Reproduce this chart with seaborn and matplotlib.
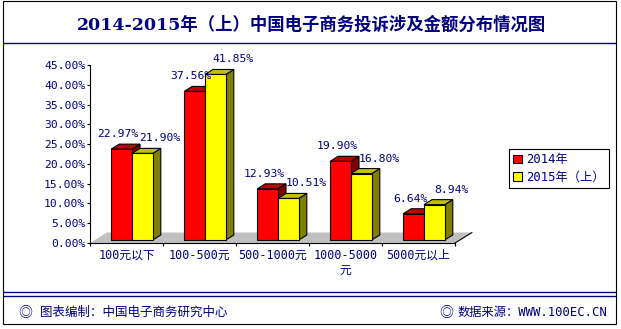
import matplotlib
matplotlib.use('Agg')
import matplotlib.pyplot as plt
import seaborn as sns
import pandas as pd
from matplotlib.patches import Polygon, Rectangle, Patch
from matplotlib.lines import Line2D
from matplotlib.transforms import ScaledTranslation

# ---------------- data ----------------
categories = ['100元以下', '100-500元', '500-1000元', '1000-5000\n元', '5000元以上']
series = ['2014年', '2015年（上）']
values_2014 = [22.97, 37.56, 12.93, 19.90, 6.64]
values_2015 = [21.90, 41.85, 10.51, 16.80, 8.94]
y_ticks = [0, 5, 10, 15, 20, 25, 30, 35, 40, 45]
title_text = '2014-2015年（上）中国电子商务投诉涉及金额分布情况图'
footer_left = '图表编制：中国电子商务研究中心'
footer_right = '数据来源：WWW.100EC.CN'

df = pd.DataFrame({
    'category': categories * 2,
    'series': [series[0]] * len(categories) + [series[1]] * len(categories),
    'value': values_2014 + values_2015,
})

# ---------------- style ----------------
sns.set_theme(style='white')
MONO = ['DejaVu Sans Mono', 'Noto Sans CJK SC']
plt.rcParams['font.family'] = MONO
NAVY = '#000080'
front_colors = ['#FF0000', '#FFFF00']
top_colors = ['#C00000', '#C0C000']
side_colors = ['#800000', '#808000']
floor_color = '#C0C0C0'

W, H = 621, 329
fig = plt.figure(figsize=(W / 100, H / 100), dpi=100)
fig.patch.set_facecolor('white')

ax_l, ax_r, ax_t, ax_b = 90, 455, 65, 243
ax = fig.add_axes([ax_l / W, 1 - ax_b / H, (ax_r - ax_l) / W, (ax_b - ax_t) / H])
ax.set_facecolor('none')

sns.barplot(data=df, x='category', y='value', hue='series', palette=front_colors,
            saturation=1, width=0.57, gap=0, edgecolor='black', linewidth=0.8,
            errorbar=None, legend=False, ax=ax)

ax.set_xlim(-0.5, len(categories) - 0.5)
ax.set_ylim(0, 45)

# pixel -> data conversion
px_x = (len(categories)) / (ax_r - ax_l)
px_y = 45 / (ax_b - ax_t)

# floor (grey parallelogram going back)
floor_dx, floor_dy = 17 * px_x, 10.5 * px_y
x0f, x1f = -0.5, len(categories) - 0.5
floor = Polygon([(x0f, 0), (x1f, 0), (x1f + floor_dx, floor_dy), (x0f + floor_dx, floor_dy)],
                closed=True, facecolor=floor_color, edgecolor='none', zorder=0.5,
                clip_on=False, transform=ax.transData)
ax.add_patch(floor)
ax.add_line(Line2D([x1f, x1f + floor_dx], [0, floor_dy], color='black', lw=0.8,
                   clip_on=False, zorder=0.6))

# 3D bars
front_trans = ax.transData + ScaledTranslation(5.5 / 100, 3 / 100, fig.dpi_scale_trans)
dep_x, dep_y = 8 * px_x, 5 * px_y
for si, cont in enumerate(ax.containers):
    z = 3 + si
    for p in cont.patches:
        x0, w, h = p.get_x(), p.get_width(), p.get_height()
        p.set_transform(front_trans)
        p.set_clip_on(False)
        p.set_zorder(z + 0.2)
        top = Polygon([(x0, h), (x0 + w, h), (x0 + w + dep_x, h + dep_y), (x0 + dep_x, h + dep_y)],
                      closed=True, facecolor=top_colors[si], edgecolor='black', lw=0.8,
                      transform=front_trans, clip_on=False, zorder=z + 0.1)
        side = Polygon([(x0 + w, 0), (x0 + w + dep_x, dep_y), (x0 + w + dep_x, h + dep_y), (x0 + w, h)],
                       closed=True, facecolor=side_colors[si], edgecolor='black', lw=0.8,
                       transform=front_trans, clip_on=False, zorder=z)
        ax.add_patch(top)
        ax.add_patch(side)

# value labels
label_dx_px = [2, 23]
for si, cont in enumerate(ax.containers):
    for p in cont.patches:
        xc = p.get_x() + p.get_width() / 2
        v = p.get_height()
        ax.annotate(f'{v:.2f}%', xy=(xc, v), xytext=(label_dx_px[si] * 0.72, 18 * 0.72),
                    textcoords='offset points', ha='center', va='center',
                    fontsize=8.2, color=NAVY, annotation_clip=False, zorder=10)

# axes styling
for s in ['top', 'right']:
    ax.spines[s].set_visible(False)
for s in ['left', 'bottom']:
    ax.spines[s].set_color('black')
    ax.spines[s].set_linewidth(0.8)
    ax.spines[s].set_zorder(1)

ax.set_yticks(y_ticks)
ax.set_yticklabels([f'{t:.2f}%' for t in y_ticks])
ax.tick_params(axis='y', which='major', left=True, length=2.3, width=0.8, color='black',
               pad=1.2, labelsize=8.2, labelcolor=NAVY, direction='out')
ax.set_xticks(range(len(categories)))
ax.set_xticklabels(categories, linespacing=1.25)
ax.tick_params(axis='x', which='major', length=0, pad=4, labelsize=8.5, labelcolor=NAVY)
ax.set_xticks([i - 0.5 for i in range(len(categories) + 1)], minor=True)
ax.tick_params(axis='x', which='minor', bottom=True, length=2.5, width=0.8, color='black',
               direction='out')
ax.set_xlabel('')
ax.set_ylabel('')

# legend
handles = [Patch(facecolor=c, edgecolor='black', linewidth=0.8) for c in front_colors]
leg = fig.legend(handles, series, loc='upper left', bbox_to_anchor=(509 / W, 1 - 149 / H),
                 frameon=True, fancybox=False, framealpha=1, edgecolor='black',
                 fontsize=8.8, labelcolor=NAVY, handlelength=0.75, handleheight=0.75,
                 handletextpad=0.3, borderpad=0.35, labelspacing=0.35, borderaxespad=0)
leg.get_frame().set_linewidth(0.8)

# frame, title, footer
fig.add_artist(Rectangle((3 / W, 1 - 324 / H), (616 - 3) / W, (324 - 1) / H, fill=False,
                         edgecolor='black', lw=0.8, transform=fig.transFigure))
fig.add_artist(Line2D([3 / W, 616 / W], [1 - 43 / H] * 2, color=NAVY, lw=1.0,
                      transform=fig.transFigure))
for yy in (292, 296):
    fig.add_artist(Line2D([3 / W, 616 / W], [1 - yy / H] * 2, color=NAVY, lw=1.0,
                          transform=fig.transFigure))
fig.text(311 / W, 1 - 25 / H, title_text, ha='center', va='center', fontsize=12.5,
         fontweight='bold', color=NAVY, family=['DejaVu Serif', 'Noto Sans CJK SC'])
fy = 1 - 312.5 / H
fig.text(25 / W, fy, '◎', ha='center', va='center', fontsize=10, color=NAVY,
         family=['Noto Sans CJK SC'])
fig.text(40 / W, fy, footer_left, ha='left', va='center', fontsize=9, color=NAVY,
         family=['Noto Sans CJK SC'])
fig.text(446 / W, fy, '◎', ha='center', va='center', fontsize=10, color=NAVY,
         family=['Noto Sans CJK SC'])
fig.text(458 / W, fy, footer_right, ha='left', va='center', fontsize=8.8, color=NAVY,
         family=MONO)

fig.savefig('out.png', dpi=100)
